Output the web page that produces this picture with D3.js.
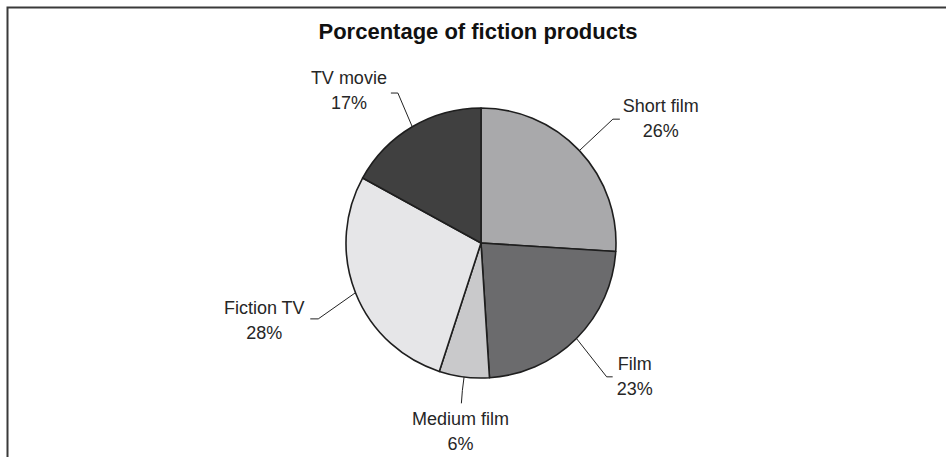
<!DOCTYPE html>
<html>
<head>
<meta charset="utf-8">
<script src="https://cdn.jsdelivr.net/npm/d3@7"></script>
<style>
  html, body { margin: 0; padding: 0; background: #fff; }
  svg { display: block; }
  text { font-family: "Liberation Sans", Arial, sans-serif; fill: #262626; }
</style>
</head>
<body>
<svg id="chart" width="946" height="457"></svg>
<script>
const title = "Porcentage of fiction products";
const categories = ["Short film", "Film", "Medium film", "Fiction TV", "TV movie"];
const values = [26, 23, 6, 28, 17];
const shades = ["#a9a9ab", "#6b6b6d", "#c9c9cb", "#e6e6e8", "#404040"];

// label layout (leader elbow radius factor, elbow angle shift in degrees, tail vector, text offset from tail end)
const labelLayout = [
  { elbow: 1.34, shift: 0,    tail: [7, 0],   text: [41, -7] },
  { elbow: 1.36, shift: 1.8,  tail: [6, 0],   text: [22, -7] },
  { elbow: 1.10, shift: 0,    tail: [-1, 13], text: [-1, 22] },
  { elbow: 1.33, shift: -3.4, tail: [-8, 0],  text: [-46, -5] },
  { elbow: 1.27, shift: 1.6,  tail: [-7, 0],  text: [-42, -9] }
];

const W = 946, H = 457;
const cx = 481, cy = 243, R = 135;
const lineGap = 25;

const svg = d3.select("#chart");

// frame (top and left edges)
svg.append("path")
  .attr("d", `M7.5,${H} V7.5 H${W}`)
  .attr("fill", "none")
  .attr("stroke", "#3a3a3a")
  .attr("stroke-width", 2);

svg.append("text")
  .attr("x", 478).attr("y", 39)
  .attr("text-anchor", "middle")
  .style("font-weight", "bold")
  .style("font-size", "22px")
  .style("fill", "#111")
  .text(title);

const data = categories.map((c, i) => ({ name: c, value: values[i], color: shades[i], layout: labelLayout[i] }));

const pie = d3.pie().sort(null).value(d => d.value);
const arcs = pie(data);
const arc = d3.arc().innerRadius(0).outerRadius(R);

const g = svg.append("g").attr("transform", `translate(${cx},${cy})`);

g.selectAll("path.slice")
  .data(arcs)
  .join("path")
  .attr("class", "slice")
  .attr("d", arc)
  .attr("fill", d => d.data.color)
  .attr("stroke", "#1e1e1e")
  .attr("stroke-width", 1.6)
  .attr("stroke-linejoin", "round");

const pt = (a, r) => [Math.sin(a) * r, -Math.cos(a) * r];

arcs.forEach(d => {
  const mid = (d.startAngle + d.endAngle) / 2;
  const L = d.data.layout;
  const p0 = pt(mid, R);
  const p1 = pt(mid + L.shift * Math.PI / 180, R * L.elbow);
  const p2 = [p1[0] + L.tail[0], p1[1] + L.tail[1]];
  g.append("polyline")
    .attr("points", [p0, p1, p2].map(p => p.join(",")).join(" "))
    .attr("fill", "none")
    .attr("stroke", "#222")
    .attr("stroke-width", 1);
  const tx = p2[0] + L.text[0], ty = p2[1] + L.text[1];
  const t = g.append("text")
    .attr("text-anchor", "middle")
    .style("font-size", "18px");
  t.append("tspan").attr("x", tx).attr("y", ty).text(d.data.name);
  t.append("tspan").attr("x", tx).attr("y", ty + lineGap).text(d.data.value + "%");
});
</script>
</body>
</html>
